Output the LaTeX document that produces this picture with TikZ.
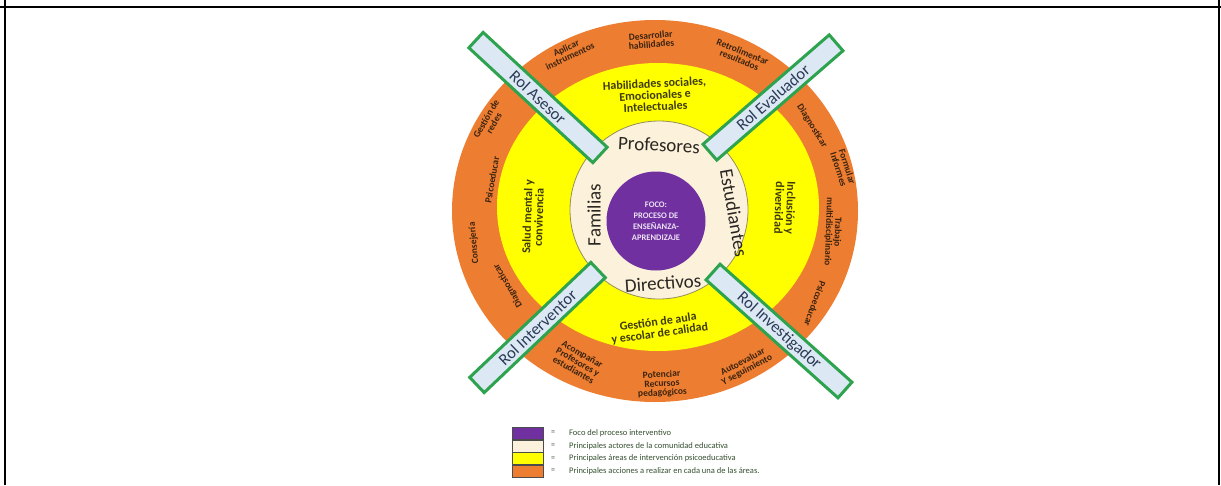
\documentclass[tikz,border=0pt]{standalone}
\usepackage{fontspec}
\setmainfont{Carlito}
\definecolor{orng}{HTML}{ED7D31}
\definecolor{ylw}{HTML}{FFFF00}
\definecolor{crm}{HTML}{FCF1DB}
\definecolor{prp}{HTML}{7030A0}
\definecolor{barfill}{HTML}{DCE9F5}
\definecolor{bargreen}{HTML}{2EA34F}
\definecolor{bartext}{HTML}{2B3A55}
\definecolor{ortext}{HTML}{3A230F}
\definecolor{yltext}{HTML}{3F3B0C}
\definecolor{crtext}{HTML}{2A2622}
\definecolor{legtext}{HTML}{34502F}
\definecolor{foctext}{HTML}{EDE2F5}
\begin{document}
\begin{tikzpicture}[x=1pt,y=-1pt,
  bar/.style={draw=bargreen,line width=3pt,fill=barfill,minimum height=21pt,inner sep=0pt,
    font=\fontsize{16.5}{16.5}\selectfont,text=bartext},
  otxt/.style={align=center,inner sep=0pt,font=\bfseries\fontsize{9.5}{9}\selectfont,text=ortext},
  ytxt/.style={align=center,inner sep=0pt,font=\bfseries\fontsize{12}{11.5}\selectfont,text=yltext},
  ctxt/.style={inner sep=0pt,font=\fontsize{19}{19}\selectfont,text=crtext},
  legbox/.style={draw=black!70,line width=0.6pt,minimum width=31pt,minimum height=12pt,inner sep=0pt},
  legeq/.style={inner sep=0pt,font=\fontsize{8}{8}\selectfont,text=legtext},
  legtxt/.style={anchor=west,inner sep=0pt,font=\fontsize{8.5}{8.5}\selectfont,text=legtext}]
\useasboundingbox (0,0) rectangle (1221,485);
% frame
\draw[line width=2.5pt] (0,7) -- (1221,7);
\draw[line width=2.5pt] (5,0) -- (5,485);
\draw[line width=2.5pt] (1219,0) -- (1219,485);
% rings
\fill[orng] (655,211) ellipse [x radius=203pt, y radius=191pt];
\fill[ylw] (658,207) ellipse [x radius=161pt, y radius=144pt];
\filldraw[fill=crm,draw=black!35!crm!60!olive,line width=0.8pt] (659,210) circle [radius=89pt];
\node[circle,fill=prp,minimum size=99pt,inner sep=0pt,align=center,
  font=\bfseries\fontsize{8.5}{11}\selectfont,text=foctext] (foco) at (656,221)
  {FOCO:\\PROCESO DE\\ENSEÑANZA-\\APRENDIZAJE};
% cream ring labels
\node[ctxt,rotate=-3] (prof) at (659,145) {Profesores};
\node[ctxt,rotate=90] (fam) at (594,215) {Familias};
\node[ctxt,rotate=4] (dir) at (663,283) {Directivos};
\node[ctxt,rotate=-80] (est) at (734,213) {Estudiantes};
% yellow ring labels
\node[ytxt,rotate=3] (hab) at (655,95) {Habilidades sociales,\\Emocionales e\\Intelectuales};
\node[ytxt,rotate=88] (sal) at (533,217) {Salud mental y\\convivencia};
\node[ytxt,rotate=-92] (inc) at (785,208) {Inclusión y\\diversidad};
\node[ytxt,rotate=8] (ges) at (659,328) {Gestión de aula\\y escolar de calidad};
% orange ring labels
\node[otxt,rotate=25] (apl) at (568,52) {Aplicar\\instrumentos};
\node[otxt,rotate=5] (des) at (651,40) {Desarrollar\\habilidades};
\node[otxt,rotate=-22] (ret) at (741,56) {Retrolimentar\\resultados};
\node[otxt,rotate=-58] (diar) at (812,126) {Diagnosticar};
\node[otxt,rotate=-72] (for) at (843,168) {Formular\\Informes};
\node[otxt,rotate=-92] (tra) at (833,232) {Trabajo\\multidisciplinario};
\node[otxt,rotate=-110] (psir) at (815,304) {Psicoeducar};
\node[otxt,rotate=28] (aut) at (745,366) {Autoevaluar\\Y seguimiento};
\node[otxt,rotate=3] (pot) at (662,384) {Potenciar\\Recursos\\pedagógicos};
\node[otxt,rotate=-30] (aco) at (578,362) {Acompañar\\Profesores y\\estudiantes};
\node[otxt,rotate=120] (dial) at (508,286) {Diagnosticar};
\node[otxt,rotate=95] (con) at (474,243) {Consejería};
\node[otxt,rotate=80] (psil) at (492,180) {Psicoeducar};
\node[otxt,rotate=60] (red) at (490,121) {Gestión de\\redes};
% role bars
\node[bar,rotate=-42.8,minimum width=169pt] (asesor) at (538,97.5) {Rol Asesor};
\node[bar,rotate=40.9,minimum width=167pt] (evaluador) at (773,97.5) {Rol Evaluador};
\node[bar,rotate=43.5,minimum width=167pt] (interventor) at (537.5,327.5) {Rol Interventor};
\node[bar,rotate=-41.8,minimum width=177pt] (investigador) at (779,331) {Rol Investigador};
% legend
\node[legbox,fill=prp] (lb1) at (527.5,433) {};
\node[legbox,fill=crm] (lb2) at (527.5,446) {};
\node[legbox,fill=ylw] (lb3) at (527.5,458.5) {};
\node[legbox,fill=orng] (lb4) at (527.5,471) {};
\node[legeq] (le1) at (553,433) {=};
\node[legeq] (le2) at (553,446) {=};
\node[legeq] (le3) at (553,458.5) {=};
\node[legeq] (le4) at (553,471) {=};
\node[legtxt] (lt1) at (569,433) {Foco del proceso interventivo};
\node[legtxt] (lt2) at (569,446) {Principales actores de la comunidad educativa};
\node[legtxt] (lt3) at (569,458.5) {Principales áreas de intervención psicoeducativa};
\node[legtxt] (lt4) at (569,471) {Principales acciones a realizar en cada una de las áreas.};
\end{tikzpicture}
\end{document}
